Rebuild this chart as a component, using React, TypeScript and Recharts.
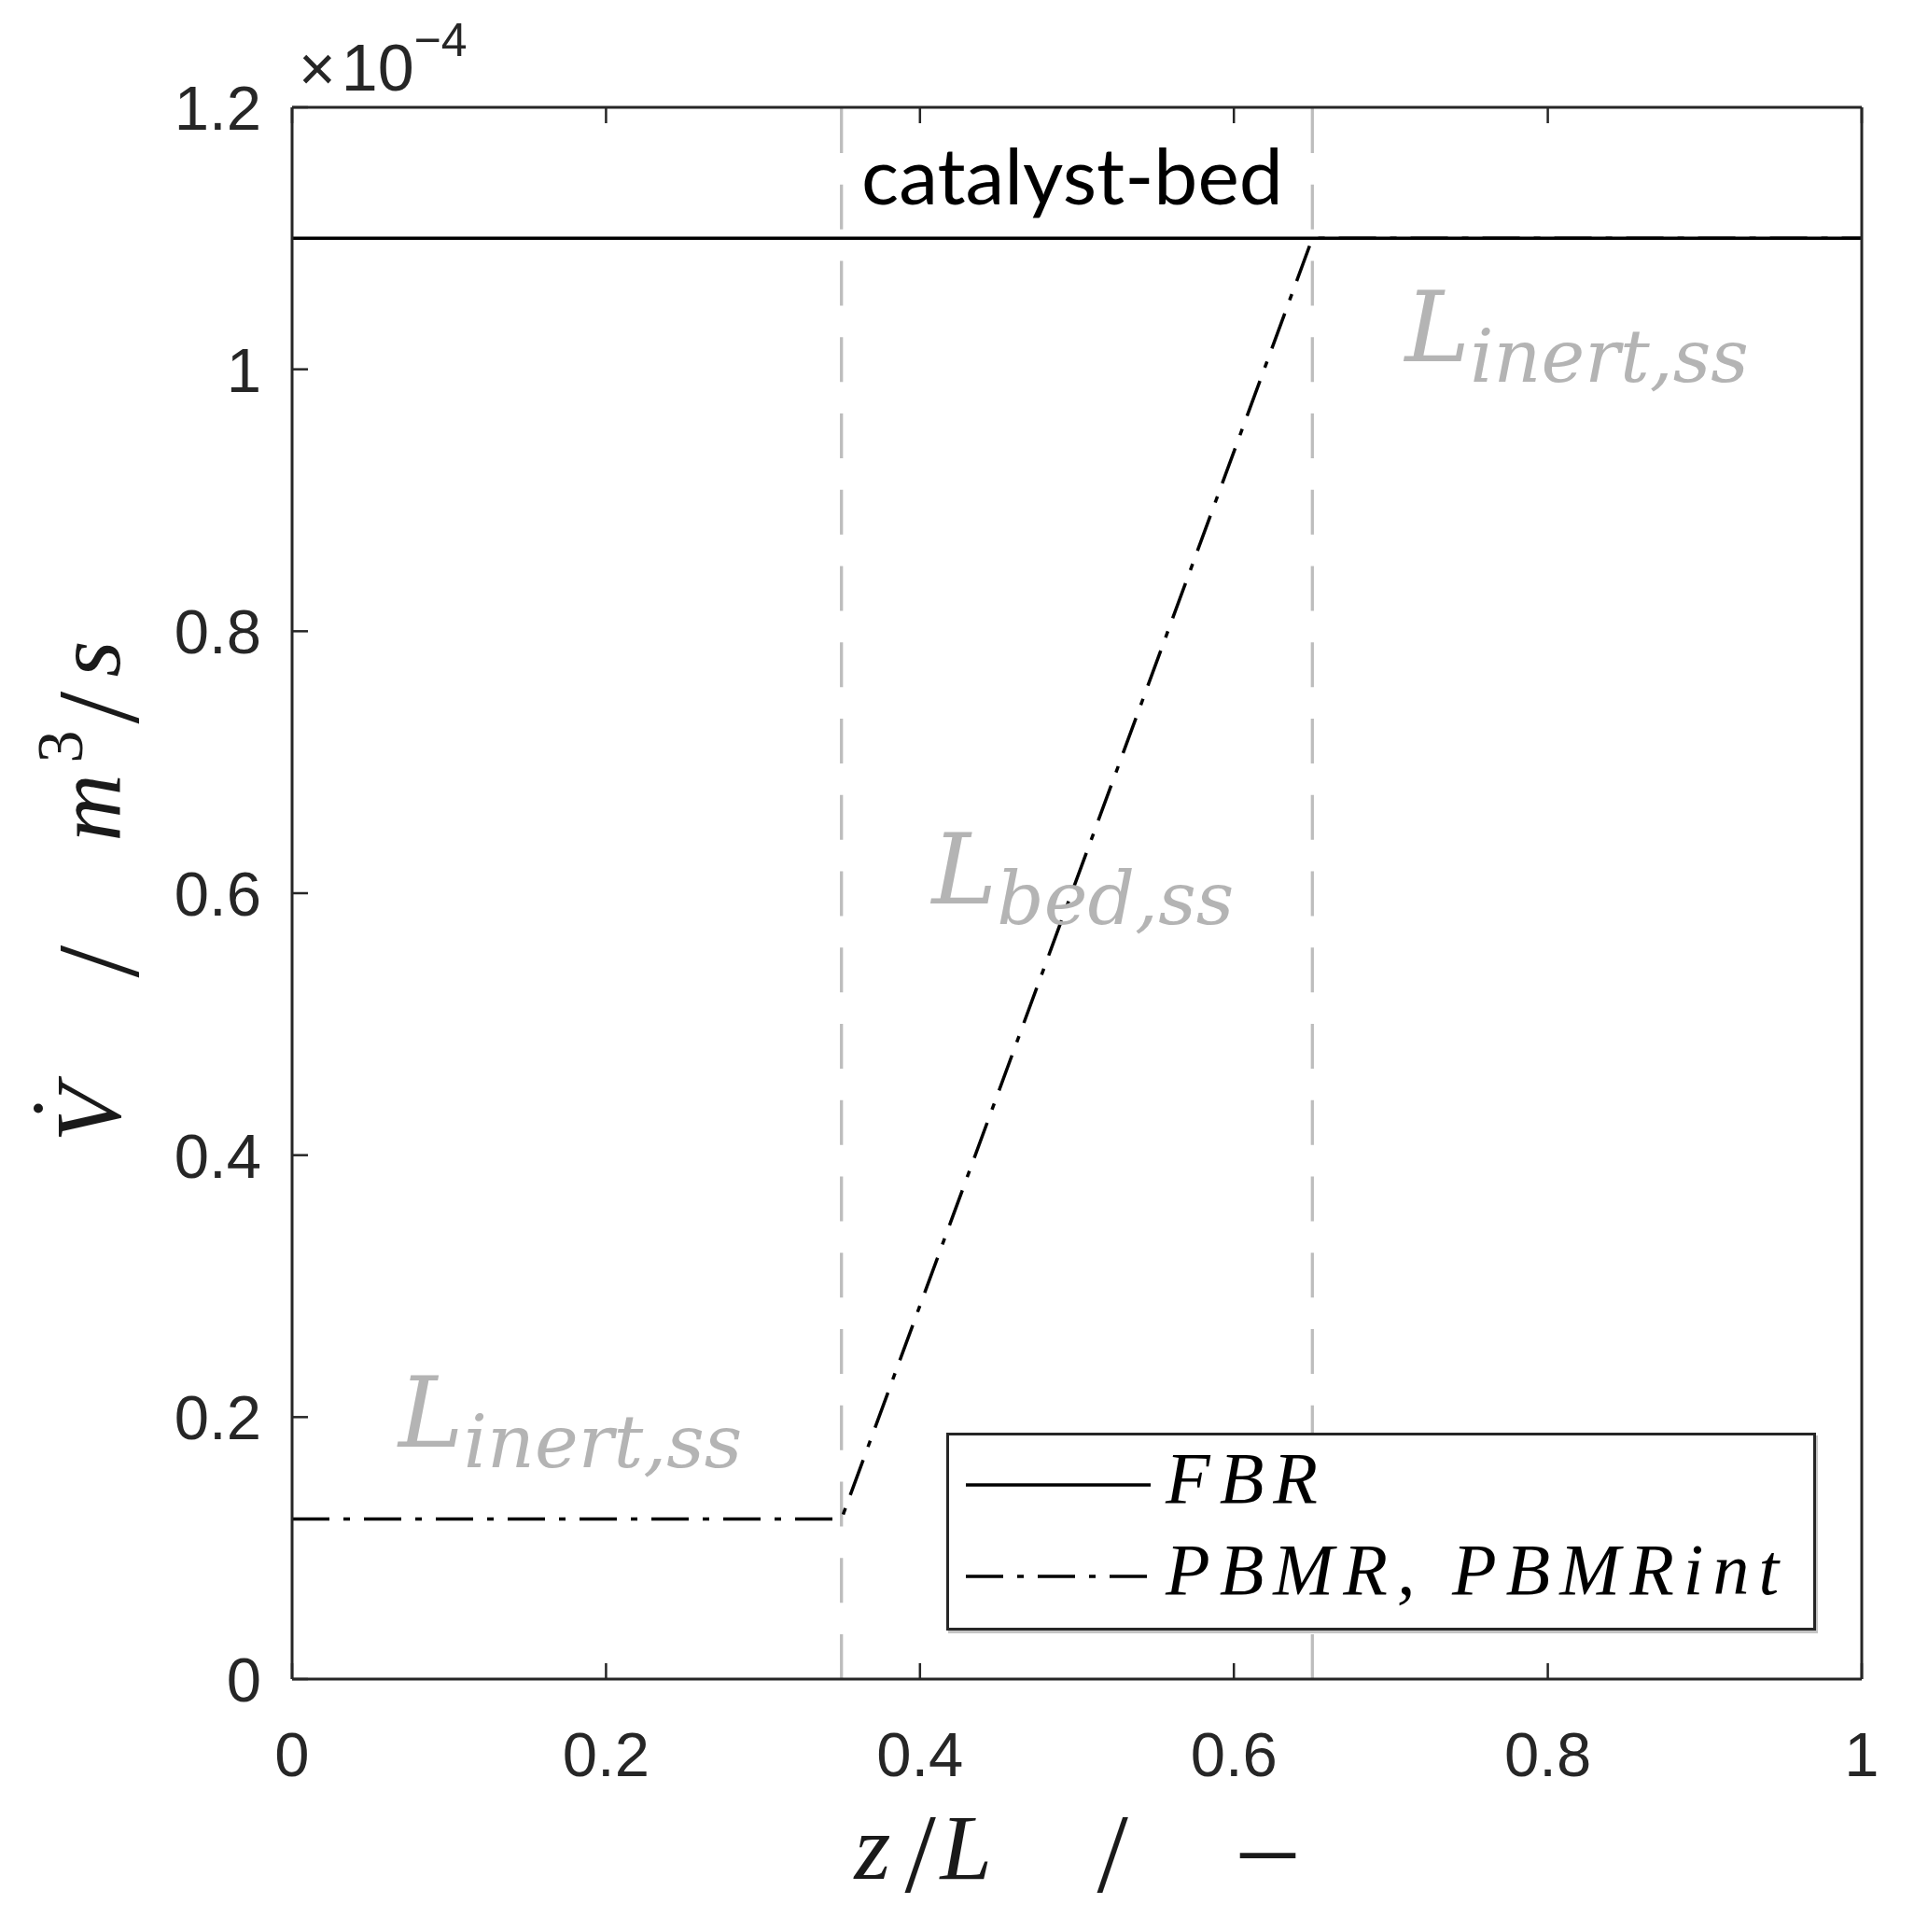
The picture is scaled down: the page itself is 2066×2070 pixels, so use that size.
import { LineChart, Line, XAxis, YAxis, ReferenceLine, ReferenceDot, Legend, Label } from 'recharts'

// flow rate along the reactor, units of 1e-4 m^3/s
const zPos = [0, 0.35, 0.65, 1]
const fbrFlow = [1.1, 1.1, 1.1, 1.1]
const pbmrFlow = [0.1222, 0.1222, 1.1, 1.1]

const xTicks = [0, 0.2, 0.4, 0.6, 0.8, 1]
const yTicks = [0, 0.2, 0.4, 0.6, 0.8, 1, 1.2]
const bedBounds = [0.35, 0.65]

const regionNotes = [
  { x: 0.0678, y: 0.1775, main: 'L', sub: 'inert,ss' },
  { x: 0.4075, y: 0.5925, main: 'L', sub: 'bed,ss' },
  { x: 0.709, y: 1.006, main: 'L', sub: 'inert,ss' },
]
const bedNote = { x: 0.497, y: 1.1259, text: 'catalyst-bed' }

const seriesNames = ['FBR', 'PBMR, PBMRint']

const W = 2066
const H = 2070
const PLOT = { left: 313, top: 116, right: 1994, bottom: 1799 }
const AXIS = '#262626'
const TICK = 17
const SANS = '"Liberation Sans", Arial, sans-serif'
const SERIF = '"Liberation Serif", "Times New Roman", serif'
const NOTE_FONT = '"DejaVu Serif", serif'
const DASHDOT = '40 15 7 15'

const data = zPos.map((z, i) => ({ z, fbr: fbrFlow[i], pbmr: pbmrFlow[i] }))

function BottomTick({ x, y, payload }: any) {
  return (
    <g>
      <line x1={x} x2={x} y1={y} y2={y - TICK} stroke={AXIS} strokeWidth={2.5} />
      <text x={x} y={y + 104} textAnchor="middle" fontSize={67} fontFamily={SANS} fill={AXIS}>
        {String(payload.value)}
      </text>
    </g>
  )
}

function LeftTick({ x, y, payload }: any) {
  return (
    <g>
      <line x1={x} x2={x + TICK} y1={y} y2={y} stroke={AXIS} strokeWidth={2.5} />
      <text x={x - 33} y={y + 24} textAnchor="end" fontSize={67} fontFamily={SANS} fill={AXIS}>
        {String(payload.value)}
      </text>
    </g>
  )
}

function YTitle() {
  const cy = (PLOT.top + PLOT.bottom) / 2
  return (
    <g>
      <g transform={`translate(128,${cy}) rotate(-90)`} fontFamily={SERIF} fill="#1a1a1a">
        <text x={-266} y={0} fontSize={100} fontStyle="italic">V</text>
        <circle cx={-230} cy={-87} r={5} />
        <text x={-90} y={20} fontSize={125}>/</text>
        <text x={56} y={0} fontSize={100} fontStyle="italic">m</text>
        <text x={140} y={-40} fontSize={70}>3</text>
        <text x={182} y={20} fontSize={125}>/</text>
        <text x={232} y={0} fontSize={100} fontStyle="italic">s</text>
      </g>
      {/* axis multiplier */}
      <text x={320} y={97} fontFamily={SANS} fill={AXIS}>
        <tspan fontSize={68} fontWeight={300}>×</tspan>
        <tspan fontSize={70} dx={6}>10</tspan>
        <tspan fontSize={50} dy={-37}>−4</tspan>
      </text>
    </g>
  )
}

function XTitle() {
  const cx = (PLOT.left + PLOT.right) / 2
  const y = 2013
  return (
    <g fontFamily={SERIF} fill="#1a1a1a">
      <text x={cx - 238} y={y} fontSize={100} fontStyle="italic">z</text>
      <text x={cx - 184} y={y + 14} fontSize={120}>/</text>
      <text x={cx - 146} y={y} fontSize={100} fontStyle="italic">L</text>
      <text x={cx + 22} y={y + 14} fontSize={120}>/</text>
      <text x={cx + 176} y={y + 2} fontSize={116}>–</text>
    </g>
  )
}

function NoteText({ viewBox, main, sub }: any) {
  return (
    <text x={viewBox.x} y={viewBox.y} fontFamily={NOTE_FONT} fontStyle="italic" fill="#b4b4b4">
      <tspan fontSize={105}>{main}</tspan>
      <tspan fontSize={79} dy={22}>{sub}</tspan>
    </text>
  )
}

function BedText({ viewBox }: any) {
  return (
    <text x={viewBox.x} y={viewBox.y} textAnchor="middle" fontFamily="Lato, sans-serif" fontSize={84} fill="#000">
      {bedNote.text}
    </text>
  )
}

function LegendBox() {
  return (
    <div style={{ width: 932, height: 212, boxSizing: 'border-box', border: `3px solid ${AXIS}`, background: '#fff', boxShadow: '2px 3px 0 #c4c4c4' }}>
      <svg width={926} height={206} style={{ display: 'block' }}>
        {seriesNames.map((name, i) => (
          <g key={name}>
            <line x1={18} x2={216} y1={53 + i * 98} y2={53 + i * 98} stroke="#000" strokeWidth={3.5}
              strokeDasharray={i === 0 ? undefined : DASHDOT} />
            <text x={232} y={72 + i * 98} fontFamily={SERIF} fontStyle="italic" fontSize={78} letterSpacing={10} fill="#000">
              {name}
            </text>
          </g>
        ))}
      </svg>
    </div>
  )
}

export default function App() {
  return (
    <div style={{ position: 'absolute', left: 0, top: 0, width: W, height: H, background: '#fff' }}>
      <LineChart width={W} height={H} data={data}
        margin={{ top: PLOT.top - 1, right: W - PLOT.right - 1, left: PLOT.left - 200, bottom: H - PLOT.bottom - 150 }}>
        <XAxis dataKey="z" type="number" domain={[0, 1]} ticks={xTicks} height={150}
          tickSize={0} tickMargin={0} tickLine={false} tick={<BottomTick />}
          axisLine={{ stroke: AXIS, strokeWidth: 3 }}>
          <Label content={<XTitle />} />
        </XAxis>
        <XAxis xAxisId="top" orientation="top" dataKey="z" type="number" domain={[0, 1]} ticks={xTicks}
          height={1} mirror tickSize={TICK} tickFormatter={() => ''} stroke={AXIS}
          axisLine={{ stroke: AXIS, strokeWidth: 3 }} tickLine={{ stroke: AXIS, strokeWidth: 2.5 }} />
        <YAxis type="number" domain={[0, 1.2]} ticks={yTicks} width={200}
          tickSize={0} tickMargin={0} tickLine={false} tick={<LeftTick />}
          axisLine={{ stroke: AXIS, strokeWidth: 3 }}>
          <Label content={<YTitle />} />
        </YAxis>
        <YAxis yAxisId="right" orientation="right" type="number" domain={[0, 1.2]} ticks={yTicks}
          width={1} mirror tickSize={TICK} tickFormatter={() => ''} stroke={AXIS}
          axisLine={{ stroke: AXIS, strokeWidth: 3 }} tickLine={{ stroke: AXIS, strokeWidth: 2.5 }} />

        {bedBounds.map(b => (
          <ReferenceLine key={b} x={b} stroke="#bdbdbd" strokeWidth={3.3} strokeDasharray="48 33.75" />
        ))}

        {regionNotes.map((n, i) => (
          <ReferenceDot key={i} x={n.x} y={n.y} r={0} stroke="none" fill="none"
            label={<NoteText main={n.main} sub={n.sub} />} />
        ))}
        <ReferenceDot x={bedNote.x} y={bedNote.y} r={0} stroke="none" fill="none" label={<BedText />} />

        <Line dataKey="pbmr" name={seriesNames[1]} stroke="#000" strokeWidth={3.5} strokeDasharray={DASHDOT}
          dot={false} activeDot={false} isAnimationActive={false} />
        <Line dataKey="fbr" name={seriesNames[0]} stroke="#000" strokeWidth={3.5}
          dot={false} activeDot={false} isAnimationActive={false} />

        <Legend layout="vertical" align="center" verticalAlign="middle" content={<LegendBox />}
          wrapperStyle={{ left: 1014, top: 1535, width: 932, height: 212 }} />
      </LineChart>
    </div>
  )
}
